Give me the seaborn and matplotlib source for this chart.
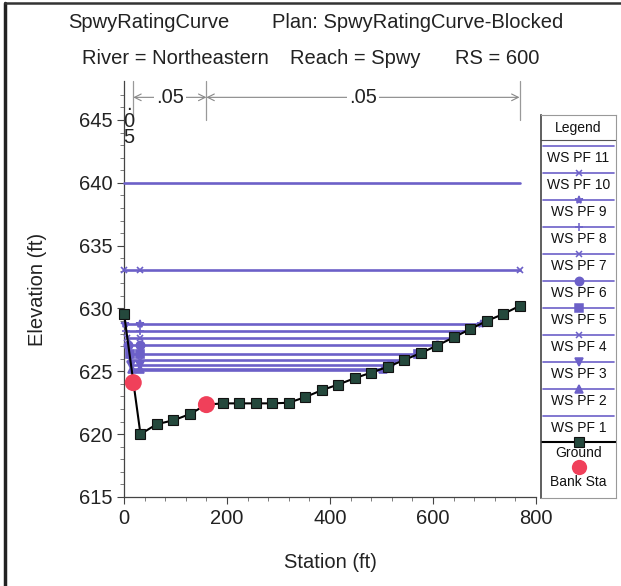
import numpy as np
import pandas as pd
import matplotlib
matplotlib.use("Agg")
import matplotlib.pyplot as plt
from matplotlib.lines import Line2D
import seaborn as sns

# ---------------- data ----------------
ground_station = [0, 32, 64, 96, 128, 160, 192, 224, 256, 288, 320, 352, 384,
                  416, 448, 480, 512, 544, 576, 608, 640, 672, 704, 736, 768]
ground_elev = [629.6, 620.0, 620.8, 621.1, 621.6, 622.35, 622.45, 622.45, 622.45,
               622.45, 622.5, 622.95, 623.5, 623.95, 624.45, 624.9, 625.35, 625.9,
               626.45, 627.05, 627.7, 628.35, 629.0, 629.55, 630.2]
bank_station = [18, 160]
bank_elev = [624.1, 622.35]
ws_names = ["WS PF 11", "WS PF 10", "WS PF 9", "WS PF 8", "WS PF 7", "WS PF 6",
            "WS PF 5", "WS PF 4", "WS PF 3", "WS PF 2", "WS PF 1"]
ws_elev = [640.0, 633.1, 628.8, 628.2, 627.67, 627.06, 626.35, 625.87, 625.48, 625.21, 625.1]
n_values = [".05", ".05", ".05"]
n_breaks = [0, 18, 160, 768]
x_ticks = [0, 200, 400, 600, 800]
y_ticks = [615, 620, 625, 630, 635, 640, 645]

# ---------------- style ----------------
sns.set_style("ticks")
plt.rcParams["font.family"] = ["Liberation Sans", "DejaVu Sans"]

WS_COLOR = "#6c60c8"
ws_markers = [None, "x", "*", "+", "x", "o", "s", "x", "v", "^", None]
ws_msize = [0, 5, 6, 6, 5, 6, 6, 5, 6, 6, 0]

fig = plt.figure(figsize=(6.21, 5.86), dpi=100)
fig.patch.set_facecolor("white")
W, H = 621, 586
ax = fig.add_axes([124 / W, 1 - 497 / H, 412 / W, 416 / H])

# water surfaces
gs = np.array(ground_station, float)
ge = np.array(ground_elev, float)
for name, el, mk, ms in zip(ws_names, ws_elev, ws_markers, ws_msize):
    left = float(np.interp(el, [ge[1], ge[0]], [gs[1], gs[0]]))
    right = float(np.interp(el, ge[1:], gs[1:]))
    xs = [left, gs[1], right]
    df = pd.DataFrame({"Station": xs, "Elev": [el] * 3})
    sns.lineplot(data=df, x="Station", y="Elev", ax=ax, color=WS_COLOR, lw=1.9,
                 marker=mk if mk else None, markersize=ms, markeredgewidth=1.2,
                 markeredgecolor=WS_COLOR, sort=False, clip_on=False, zorder=3)

# ground
gdf = pd.DataFrame({"Station": ground_station, "Elev": ground_elev})
sns.lineplot(data=gdf, x="Station", y="Elev", ax=ax, color="black", lw=1.5,
             marker="s", markersize=7.5, markerfacecolor="#24483c",
             markeredgecolor="#111", markeredgewidth=0.8, sort=False,
             clip_on=False, zorder=4)

# bank stations
bdf = pd.DataFrame({"Station": bank_station, "Elev": bank_elev})
sns.scatterplot(data=bdf, x="Station", y="Elev", ax=ax, color="#f0405a", s=150,
                edgecolor="none", zorder=5, clip_on=False)

ax.set_xlim(0, 800)
ax.set_ylim(615, 648.1)
ax.set_xticks(x_ticks)
ax.set_xticks(np.arange(0, 801, 40), minor=True)
ax.set_yticks(y_ticks)
ax.set_yticks(np.arange(615, 648, 1), minor=True)
ax.tick_params(axis="both", which="major", labelsize=14.5, length=5, width=0.8,
               colors="#444", labelcolor="#222")
ax.tick_params(axis="both", which="minor", length=3, width=0.6, colors="#666")
for s in ["top", "right"]:
    ax.spines[s].set_visible(False)
for s in ["left", "bottom"]:
    ax.spines[s].set_color("#444")
    ax.spines[s].set_linewidth(0.9)
ax.set_xlabel("Station (ft)", fontsize=14.5, color="#222", labelpad=18)
ax.set_ylabel("Elevation (ft)", fontsize=14.5, color="#222", labelpad=23)

# Manning's n dimension line
dim_y = 646.8
for b in n_breaks[1:]:
    ax.plot([b, b], [645.0, 648.1], color="#999", lw=0.9, clip_on=False, zorder=2)
for i, nv in enumerate(n_values[1:], start=1):
    a, b = n_breaks[i], n_breaks[i + 1]
    ax.annotate("", xy=(a, dim_y), xytext=(b, dim_y),
                arrowprops=dict(arrowstyle="<->", color="#888", lw=0.8,
                                shrinkA=0, shrinkB=0, mutation_scale=12),
                annotation_clip=False)
    ax.text((a + b) / 2, dim_y, nv, ha="center", va="center", fontsize=14.5,
            color="#222", bbox=dict(facecolor="white", edgecolor="none", pad=1.5),
            zorder=6)
ax.text((n_breaks[0] + n_breaks[1]) / 2, 644.9, "\n".join(n_values[0]),
        ha="center", va="center", fontsize=14.5, color="#222", linespacing=0.85,
        zorder=6)

# titles
fig.text(68 / W, 1 - 22 / H, "SpwyRatingCurve", fontsize=14.5, va="center", ha="left", color="#222")
fig.text(272 / W, 1 - 22 / H, "Plan: SpwyRatingCurve-Blocked", fontsize=14.5, va="center", ha="left", color="#222")
fig.text(82 / W, 1 - 58 / H, "River = Northeastern", fontsize=14.5, va="center", ha="left", color="#222")
fig.text(290 / W, 1 - 58 / H, "Reach = Spwy", fontsize=14.5, va="center", ha="left", color="#222")
fig.text(455 / W, 1 - 58 / H, "RS = 600", fontsize=14.5, va="center", ha="left", color="#222")

# legend panel
lax = fig.add_axes([541 / W, 1 - 498 / H, 75 / W, 383 / H])
lax.set_xlim(0, 1)
lax.set_ylim(498, 115)
lax.set_xticks([])
lax.set_yticks([])
for s in lax.spines.values():
    s.set_color("#999")
    s.set_linewidth(0.8)
lax.spines["left"].set_color("#444")
lax.spines["left"].set_linewidth(1.2)
lax.text(0.5, 128, "Legend", ha="center", va="center", fontsize=10, color="#111")
lax.plot([0, 1], [140, 140], color="#555", lw=0.8)
for i, (name, mk, ms) in enumerate(zip(ws_names, ws_markers, ws_msize)):
    y = 146 + 27 * i
    lax.plot([0.03, 0.97], [y, y], color=WS_COLOR, lw=1.2)
    if mk:
        lax.plot([0.5], [y], marker=mk, markersize=ms, color=WS_COLOR,
                 markeredgecolor=WS_COLOR, markeredgewidth=1.1)
    lax.text(0.5, y + 12, name, ha="center", va="center", fontsize=10, color="#111")
lax.plot([0.0, 1.0], [442, 442], color="black", lw=1.5)
lax.plot([0.5], [442], marker="s", markersize=6.5, color="#24483c",
         markeredgecolor="#111", markeredgewidth=0.8)
lax.text(0.5, 453, "Ground", ha="center", va="center", fontsize=10, color="#111")
lax.plot([0.5], [467], marker="o", markersize=11, color="#f0405a", markeredgecolor="none")
lax.text(0.5, 482, "Bank Sta", ha="center", va="center", fontsize=10, color="#111")

# outer frame (left and top)
fig.add_artist(Line2D([5 / W, 5 / W], [0, 1 - 3 / H], transform=fig.transFigure,
                      color="#222", lw=2.5))
fig.add_artist(Line2D([5 / W, 1], [1 - 3 / H, 1 - 3 / H], transform=fig.transFigure,
                      color="#333", lw=1.8))

fig.savefig("out.png", dpi=100)
